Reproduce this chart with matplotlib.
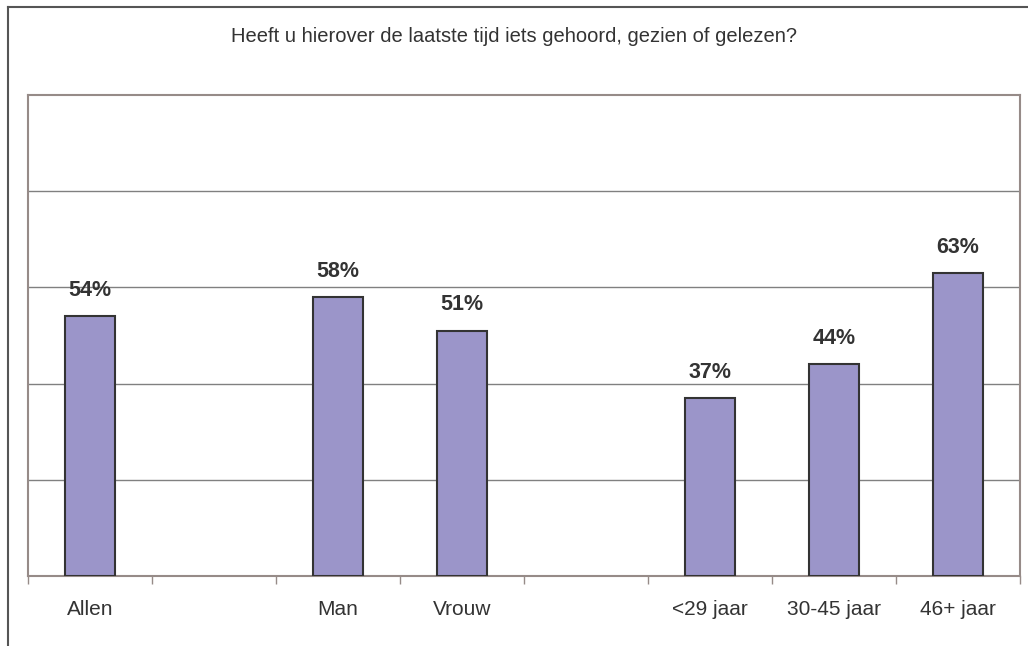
import matplotlib.pyplot as plt
from matplotlib.lines import Line2D
import numpy as np

plt.rcParams['font.family'] = ['Liberation Sans', 'DejaVu Sans']

# data
categories = ['Allen', '', 'Man', 'Vrouw', '', '<29 jaar', '30-45 jaar', '46+ jaar']
values = [54, None, 58, 51, None, 37, 44, 63]
title = 'Heeft u hierover de laatste tijd iets gehoord, gezien of gelezen?'

W, H = 1028, 646
fig = plt.figure(figsize=(W / 100, H / 100), dpi=100)
ax = fig.add_axes([28 / W, (H - 576) / H, (1020 - 28) / W, (576 - 95) / H])

x = np.arange(len(categories))
for xi, v in zip(x, values):
    if v is None:
        continue
    ax.bar(xi, v, width=0.4, color='#9b95c9', edgecolor='#333333', linewidth=1.5, zorder=3)
    ax.annotate(f'{v}%', (xi, v), xytext=(0, 11), textcoords='offset points',
                ha='center', va='bottom', fontsize=15.5, fontweight='bold', color='#333333')

ax.set_xlim(-0.5, len(categories) - 0.5)
ax.set_ylim(0, 100)
ax.set_yticks([20, 40, 60, 80])
ax.yaxis.grid(True, color='#808080', linewidth=1, zorder=0)
ax.tick_params(axis='y', left=False, labelleft=False)

# ticks at slot edges, labels at slot centres
ax.set_xticks(np.arange(len(categories) + 1) - 0.5)
ax.set_xticklabels([])
ax.tick_params(axis='x', which='major', length=6, color='#968b88', width=1)
ax.set_xticks(x, minor=True)
ax.set_xticklabels(categories, minor=True, fontsize=15, color='#333333')
ax.tick_params(axis='x', which='minor', length=0, pad=17)

for s in ax.spines.values():
    s.set_color('#968b88')
    s.set_linewidth(1.5)

fig.text(0.5, (H - 37) / H, title, ha='center', va='center', fontsize=14.5, color='#333333')

# outer frame (top and left edges)
fig.add_artist(Line2D([8 / W, 1], [(H - 6.5) / H, (H - 6.5) / H], color='#555555', linewidth=1.5))
fig.add_artist(Line2D([8 / W, 8 / W], [0, (H - 6.5) / H], color='#555555', linewidth=1.5))

fig.savefig('out.png', dpi=100)
